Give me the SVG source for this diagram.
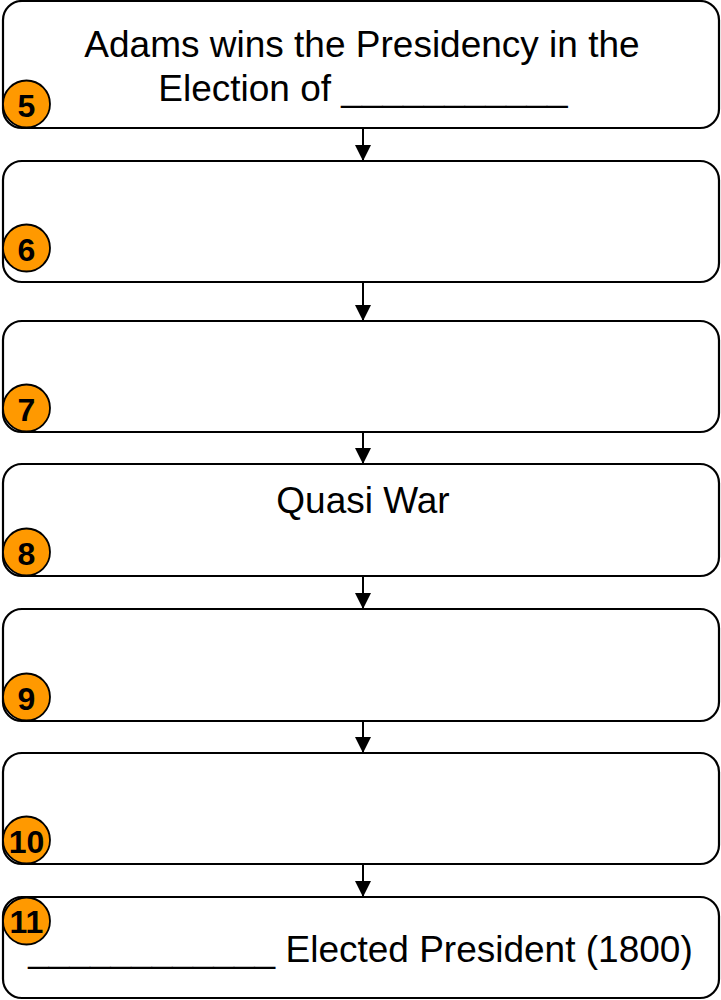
<svg xmlns="http://www.w3.org/2000/svg" width="721" height="1000" viewBox="0 0 721 1000">
<defs>
<style>
.box{fill:#fff;stroke:#000;stroke-width:2.2}
.num{fill:#FF9900;stroke:#000;stroke-width:1.8}
.nt{font-family:"Liberation Sans",Arial,sans-serif;font-weight:bold;font-size:32px;text-anchor:middle;fill:#000}
.lbl{font-family:"Liberation Sans",Arial,sans-serif;font-size:37px;text-anchor:middle;fill:#000}
.conn{stroke:#000;stroke-width:2;fill:none;marker-end:url(#ah)}
</style>
<marker id="ah" viewBox="0 0 10 10" refX="10" refY="5" markerWidth="16" markerHeight="16" markerUnits="userSpaceOnUse" orient="auto">
<path d="M0,0 L10,5 L0,10 z" fill="#000"/>
</marker>
</defs>
<rect width="721" height="1000" fill="#fff"/>
<g id="connectors">
<path class="conn" d="M363,128 V161"/>
<path class="conn" d="M363,282 V321"/>
<path class="conn" d="M363,432 V464"/>
<path class="conn" d="M363,576 V609"/>
<path class="conn" d="M363,721 V753"/>
<path class="conn" d="M363,864 V897"/>
</g>
<g id="node5">
<rect class="box" x="3" y="1" width="716" height="127" rx="19"/>
<text class="lbl" x="362" y="57">Adams wins the Presidency in the</text>
<text class="lbl" x="363" y="101">Election of ___________</text>
<circle class="num" cx="26.5" cy="104" r="23.5"/>
<text class="nt" x="26.5" y="117">5</text>
</g>
<g id="node6">
<rect class="box" x="3" y="161" width="716" height="121" rx="19"/>
<circle class="num" cx="26.5" cy="248" r="23.5"/>
<text class="nt" x="26.5" y="261">6</text>
</g>
<g id="node7">
<rect class="box" x="3" y="321" width="716" height="111" rx="19"/>
<circle class="num" cx="26.5" cy="408" r="23.5"/>
<text class="nt" x="26.5" y="421">7</text>
</g>
<g id="node8">
<rect class="box" x="3" y="464" width="716" height="112" rx="19"/>
<text class="lbl" x="363" y="513">Quasi War</text>
<circle class="num" cx="26.5" cy="552" r="23.5"/>
<text class="nt" x="26.5" y="565">8</text>
</g>
<g id="node9">
<rect class="box" x="3" y="609" width="716" height="112" rx="19"/>
<circle class="num" cx="26.5" cy="697" r="23.5"/>
<text class="nt" x="26.5" y="710">9</text>
</g>
<g id="node10">
<rect class="box" x="3" y="753" width="716" height="111" rx="19"/>
<circle class="num" cx="26.5" cy="840" r="23.5"/>
<text class="nt" x="26.5" y="853">10</text>
</g>
<g id="node11">
<rect class="box" x="3" y="897" width="716" height="101" rx="19"/>
<text class="lbl" x="360.5" y="962">____________ Elected President (1800)</text>
<circle class="num" cx="26.5" cy="921" r="23.5"/>
<text class="nt" x="26.5" y="933">11</text>
</g>
</svg>
